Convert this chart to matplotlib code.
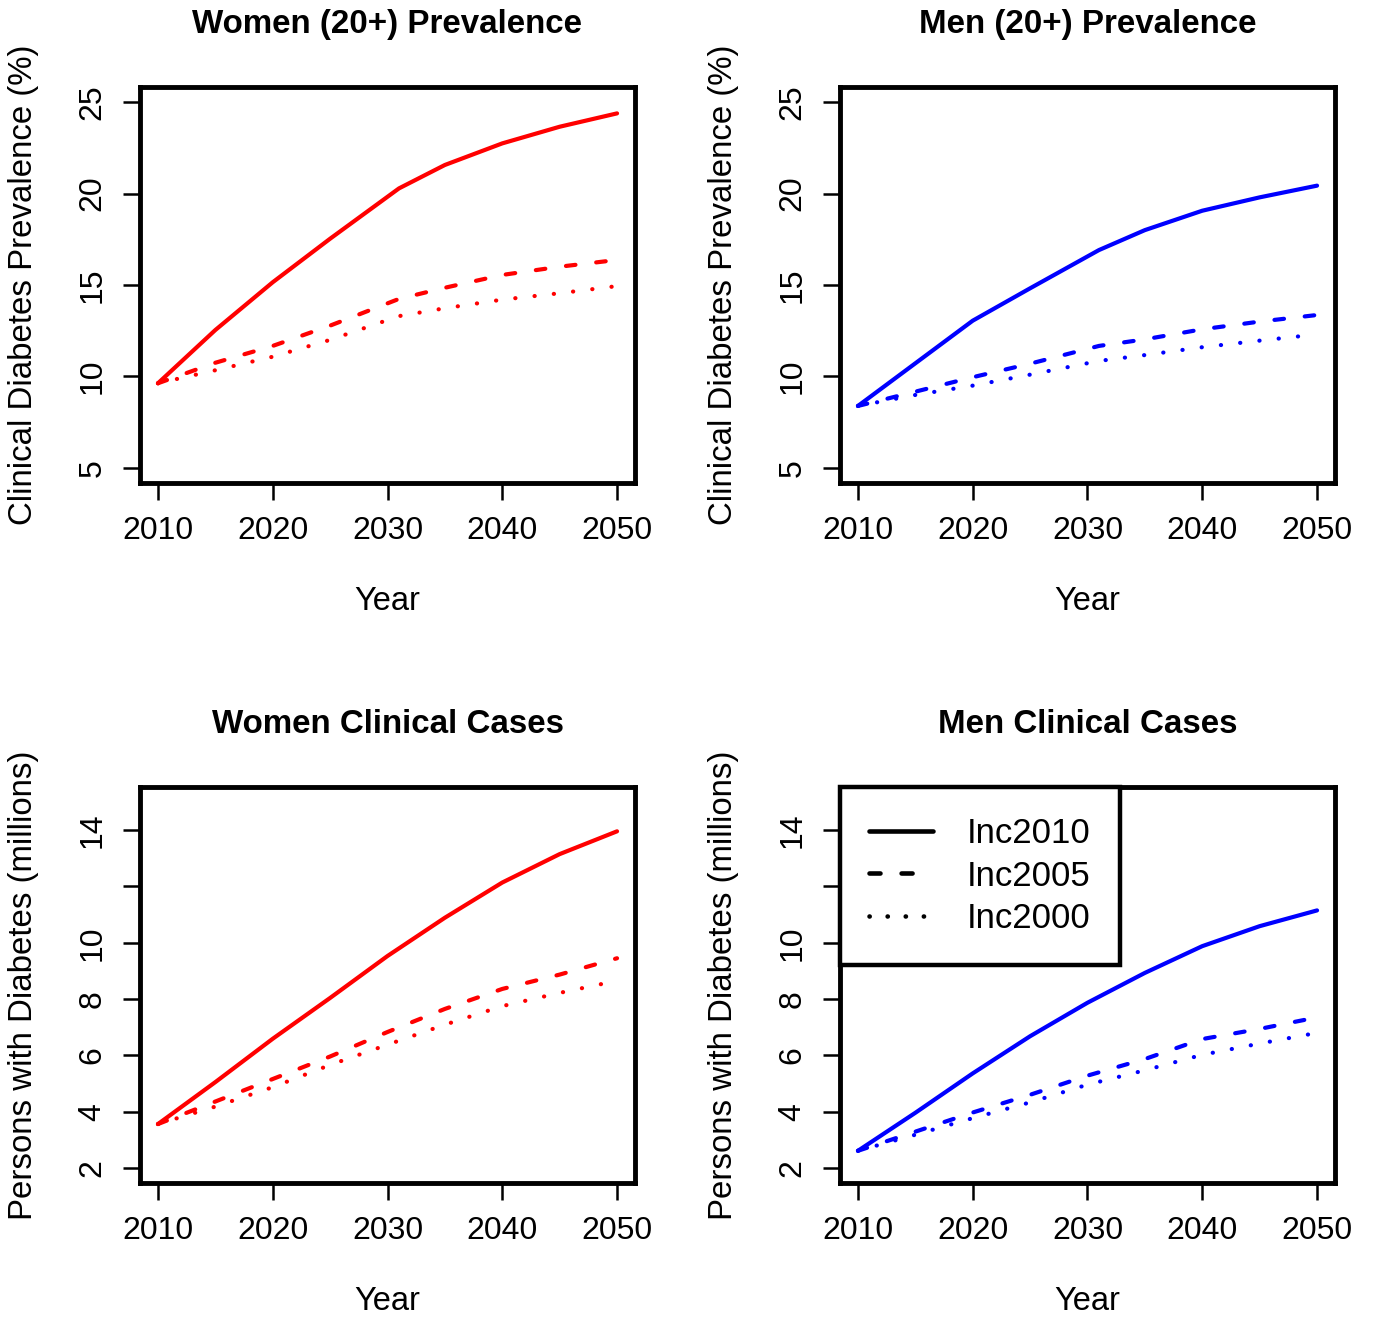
import matplotlib
matplotlib.use("Agg")
import matplotlib.pyplot as plt

plt.rcParams['font.family'] = ['Liberation Sans', 'DejaVu Sans']

# years (top panels bend at ~2031)
prev_years = [2010, 2015, 2020, 2025, 2031, 2035, 2040, 2045, 2050]
case_years = [2010, 2015, 2020, 2025, 2030, 2035, 2040, 2045, 2050]

women_prev_inc2010 = [9.63, 12.54, 15.15, 17.53, 20.28, 21.56, 22.74, 23.65, 24.38]
women_prev_inc2005 = [9.63, 10.75, 11.67, 12.78, 14.24, 14.85, 15.55, 16.0, 16.37]
women_prev_inc2000 = [9.63, 10.34, 11.08, 12.0, 13.3, 13.73, 14.2, 14.55, 14.94]

men_prev_inc2010 = [8.39, 10.72, 13.05, 14.82, 16.91, 18.0, 19.06, 19.79, 20.43]
men_prev_inc2005 = [8.39, 9.17, 9.96, 10.7, 11.67, 12.03, 12.58, 13.0, 13.36]
men_prev_inc2000 = [8.39, 8.99, 9.5, 10.1, 10.85, 11.17, 11.6, 11.96, 12.3]

women_cases_inc2010 = [3.56, 5.05, 6.59, 8.04, 9.53, 10.89, 12.14, 13.15, 13.96]
women_cases_inc2005 = [3.56, 4.36, 5.16, 5.96, 6.83, 7.65, 8.36, 8.87, 9.45]
women_cases_inc2000 = [3.56, 4.18, 4.87, 5.66, 6.38, 7.09, 7.75, 8.22, 8.65]

men_cases_inc2010 = [2.61, 3.96, 5.36, 6.68, 7.87, 8.93, 9.88, 10.59, 11.15]
men_cases_inc2005 = [2.61, 3.29, 3.97, 4.6, 5.28, 5.87, 6.58, 6.94, 7.35]
men_cases_inc2000 = [2.61, 3.18, 3.77, 4.33, 4.96, 5.47, 6.02, 6.42, 6.8]

series_names = ["Inc2010", "Inc2005", "Inc2000"]
x_ticks = [2010, 2020, 2030, 2040, 2050]
prev_ticks = [5, 10, 15, 20, 25]
prev_tick_labels = ["5", "10", "15", "20", "25"]
case_ticks = [2, 4, 6, 8, 10, 12, 14]
case_tick_labels = ["2", "4", "6", "8", "10", "", "14"]

LW = 3.0
styles = [
    dict(linestyle='-', solid_capstyle='round'),
    dict(linestyle=(0, (2.3, 5.0)), dash_capstyle='round'),
    dict(linestyle=(0, (0.05, 4.6)), dash_capstyle='round'),
]
legend_styles = [
    dict(linestyle='-', solid_capstyle='round'),
    dict(linestyle=(0, (2.4, 4.6)), dash_capstyle='round'),
    dict(linestyle=(0, (0.05, 3.9)), dash_capstyle='round'),
]


def draw_panel(ax, years, series, color, title, ylabel, ylim, yticks, ytlabels):
    for vals, name, st in zip(series, series_names, styles):
        ax.plot(years, vals, color=color, lw=LW, label=name, **st)
    # R style 4% padding around the ranges
    pad_x = (2050 - 2010) * 0.04
    pad_y = (ylim[1] - ylim[0]) * 0.04
    ax.set_xlim(2010 - pad_x, 2050 + pad_x)
    ax.set_ylim(ylim[0] - pad_y, ylim[1] + pad_y)
    ax.set_xticks(x_ticks)
    ax.set_xticklabels([str(t) for t in x_ticks])
    ax.set_yticks(yticks)
    ax.set_yticklabels(ytlabels, rotation=90, va='center')
    ax.tick_params(axis='both', direction='out', length=12, width=1.8,
                   labelsize=23)
    ax.tick_params(axis='x', pad=12)
    ax.tick_params(axis='y', pad=11)
    for sp in ax.spines.values():
        sp.set_linewidth(3.5)
    ax.set_title(title, fontsize=23.9, fontweight='bold', y=1.137, pad=0)
    ax.set_xlabel("Year", fontsize=23.5)
    ax.set_ylabel(ylabel, fontsize=23.8)
    ax.xaxis.set_label_coords(0.5, -0.262)
    ax.yaxis.set_label_coords(-0.203, 0.5)


W, H = 1373, 1317
fig = plt.figure(figsize=(W / 100, H / 100), dpi=100)

def add_axes(left_px, top_px):
    return fig.add_axes([left_px / W, 1 - (top_px + 395.2) / H, 495.8 / W, 395.2 / H])

ax1 = add_axes(139.6, 87.4)
ax2 = add_axes(839.6, 87.4)
ax3 = add_axes(139.6, 787.4)
ax4 = add_axes(839.6, 787.4)

prev_label = "Clinical Diabetes Prevalence (%)"
case_label = "Persons with Diabetes (millions)"

draw_panel(ax1, prev_years, [women_prev_inc2010, women_prev_inc2005, women_prev_inc2000],
           '#FF0000', "Women (20+) Prevalence", prev_label, (5, 25), prev_ticks, prev_tick_labels)
draw_panel(ax2, prev_years, [men_prev_inc2010, men_prev_inc2005, men_prev_inc2000],
           '#0000FF', "Men (20+) Prevalence", prev_label, (5, 25), prev_ticks, prev_tick_labels)
draw_panel(ax3, case_years, [women_cases_inc2010, women_cases_inc2005, women_cases_inc2000],
           '#FF0000', "Women Clinical Cases", case_label, (2, 15), case_ticks, case_tick_labels)
draw_panel(ax4, case_years, [men_cases_inc2010, men_cases_inc2005, men_cases_inc2000],
           '#0000FF', "Men Clinical Cases", case_label, (2, 15), case_ticks, case_tick_labels)

handles = [plt.Line2D([], [], color='black', lw=3.3, **st) for st in legend_styles]
leg = ax4.legend(handles, series_names, loc='upper left', borderaxespad=0,
                 fontsize=25, frameon=True, fancybox=False, framealpha=1,
                 handlelength=1.85, handletextpad=0.95, labelspacing=0.28,
                 borderpad=0.85)
leg.get_frame().set_edgecolor('black')
leg.get_frame().set_linewidth(3.2)

fig.savefig("out.png", dpi=100)
